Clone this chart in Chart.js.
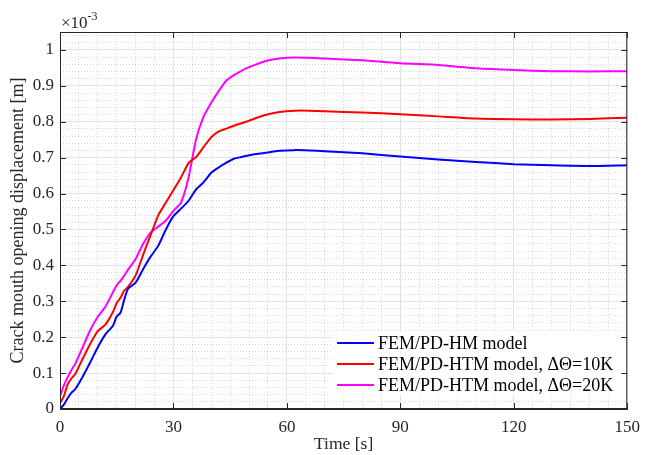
<!DOCTYPE html>
<html>
<head>
<meta charset="utf-8">
<script src="https://cdn.jsdelivr.net/npm/chart.js@4/dist/chart.umd.min.js"></script>
<style>
    html, body { margin: 0; padding: 0; background: #fff; }
</style>
</head>
<body>
<canvas id="cmod" width="648" height="455"></canvas>
<script>
// time [s] and crack mouth opening displacement [x 1e-3 m]
const timeS = [0, 1, 2, 3, 4, 6, 8, 10, 12, 14, 15, 16, 17, 18, 20, 22, 24, 26, 28, 30, 32, 34, 36, 38, 40, 42, 44, 46, 48, 50, 54, 58, 62, 66, 70, 80, 90, 100, 110, 120, 130, 140, 150];
const hmModel = [0, 0.012, 0.03, 0.045, 0.055, 0.09, 0.13, 0.172, 0.208, 0.232, 0.258, 0.268, 0.305, 0.335, 0.352, 0.39, 0.425, 0.455, 0.5, 0.537, 0.558, 0.58, 0.612, 0.632, 0.658, 0.673, 0.686, 0.697, 0.702, 0.707, 0.713, 0.719, 0.721, 0.72, 0.718, 0.712, 0.703, 0.695, 0.688, 0.682, 0.679, 0.677, 0.679];
const htm10K = [0.016, 0.035, 0.068, 0.085, 0.097, 0.14, 0.182, 0.217, 0.235, 0.27, 0.295, 0.31, 0.33, 0.34, 0.372, 0.43, 0.485, 0.54, 0.575, 0.61, 0.645, 0.685, 0.702, 0.73, 0.757, 0.773, 0.781, 0.789, 0.796, 0.803, 0.818, 0.827, 0.831, 0.831, 0.829, 0.826, 0.821, 0.815, 0.809, 0.807, 0.806, 0.808, 0.811];
const htm20K = [0.034, 0.065, 0.088, 0.108, 0.125, 0.172, 0.22, 0.257, 0.285, 0.325, 0.345, 0.357, 0.372, 0.388, 0.418, 0.46, 0.492, 0.508, 0.525, 0.552, 0.575, 0.645, 0.752, 0.815, 0.853, 0.886, 0.915, 0.93, 0.942, 0.952, 0.968, 0.976, 0.979, 0.978, 0.976, 0.971, 0.963, 0.958, 0.949, 0.944, 0.941, 0.94, 0.941];

const seriesLabels = ['FEM/PD-HM model', 'FEM/PD-HTM model, \u0394\u0398=10K', 'FEM/PD-HTM model, \u0394\u0398=20K'];
const seriesColors = ['#0000ff', '#ff0000', '#ff00ff'];
const xTicks = [0, 30, 60, 90, 120, 150];
const yTicks = [0, 0.1, 0.2, 0.3, 0.4, 0.5, 0.6, 0.7, 0.8, 0.9, 1];

const FONT = '"Liberation Serif", "Times New Roman", serif';
const AX = '#262626';

function pairs(vals) {
    return timeS.map((t, i) => ({ x: t, y: vals[i] }));
}

const decor = {
    id: 'decor',
    afterDatasetsDraw(chart) {
        const ctx = chart.ctx, a = chart.chartArea;
        // legend (lower right, white background, no frame)
        ctx.save();
        ctx.fillStyle = '#fff';
        ctx.fillRect(333, 331, a.right - 334, 64);
        ctx.font = '18px ' + FONT;
        ctx.textBaseline = 'middle';
        ctx.fillStyle = '#000';
        chart.data.datasets.forEach((ds, i) => {
            const y = 343 + i * 21;
            ctx.strokeStyle = ds.borderColor;
            ctx.lineWidth = 2;
            ctx.beginPath();
            ctx.moveTo(337, y);
            ctx.lineTo(374, y);
            ctx.stroke();
            ctx.fillText(ds.label, 378, y + 1);
        });
        ctx.restore();
    },
    afterDraw(chart) {
        const ctx = chart.ctx, a = chart.chartArea;
        const xs = chart.scales.x, ys = chart.scales.y;
        ctx.save();
        ctx.strokeStyle = AX;
        ctx.lineWidth = 1;
        ctx.strokeRect(a.left + 0.5, a.top + 0.5, a.right - a.left - 1, a.bottom - a.top - 1);
        ctx.beginPath();
        xTicks.forEach(v => {
            const px = Math.round(xs.getPixelForValue(v)) + 0.5;
            ctx.moveTo(px, a.bottom); ctx.lineTo(px, a.bottom - 6);
            ctx.moveTo(px, a.top); ctx.lineTo(px, a.top + 6);
        });
        yTicks.forEach(v => {
            const py = Math.round(ys.getPixelForValue(v)) + 0.5;
            ctx.moveTo(a.left, py); ctx.lineTo(a.left + 6, py);
            ctx.moveTo(a.right, py); ctx.lineTo(a.right - 6, py);
        });
        ctx.stroke();
        // exponent label
        ctx.fillStyle = AX;
        ctx.textBaseline = 'alphabetic';
        ctx.font = '17px ' + FONT;
        ctx.fillText('\u00d710', a.left + 1, 28);
        const w = ctx.measureText('\u00d710').width;
        ctx.font = '12px ' + FONT;
        ctx.fillText('-3', a.left + 1 + w, 20);
        ctx.restore();
    }
};

new Chart(document.getElementById('cmod'), {
    type: 'line',
    data: {
        datasets: [hmModel, htm10K, htm20K].map((vals, i) => ({
            label: seriesLabels[i],
            data: pairs(vals),
            borderColor: seriesColors[i],
            backgroundColor: seriesColors[i],
            borderWidth: 2,
            pointRadius: 0,
            tension: 0.2,
            fill: false
        }))
    },
    options: {
        responsive: false,
        devicePixelRatio: 1,
        animation: false,
        layout: { padding: { top: 32, right: 16, left: 0, bottom: 0 } },
        plugins: { legend: { display: false }, tooltip: { enabled: false } },
        scales: {
            xMinor: {
                type: 'linear', position: 'bottom', min: 0, max: 150,
                ticks: { display: false, stepSize: 5 },
                grid: { color: 'rgba(0,0,0,0.15)', drawTicks: false, z: -2 },
                border: { display: false, dash: [1, 2] },
                afterFit: s => { s.height = 0; }
            },
            yMinor: {
                type: 'linear', position: 'left', min: 0, max: 1.05,
                ticks: { display: false, stepSize: 0.02, includeBounds: false },
                afterBuildTicks: s => { s.ticks = s.ticks.filter(t => t.value < 1.045); },
                grid: { color: 'rgba(0,0,0,0.15)', drawTicks: false, z: -2 },
                border: { display: false, dash: [1, 2] },
                afterFit: s => { s.width = 0; }
            },
            x: {
                type: 'linear', position: 'bottom', min: 0, max: 150,
                ticks: { stepSize: 30, color: AX, padding: 8, font: { family: FONT, size: 17 } },
                grid: { color: '#e2e2e2', drawTicks: false, z: -1 },
                border: { color: AX, width: 1 },
                title: { display: true, text: 'Time [s]', color: AX, font: { family: FONT, size: 17.5 }, padding: { top: 0, bottom: 0 } },
                afterFit: s => { s.height = 46; }
            },
            y: {
                type: 'linear', position: 'left', min: 0, max: 1.05,
                ticks: {
                    stepSize: 0.1, includeBounds: false, color: AX, padding: 6, font: { family: FONT, size: 17 },
                    callback: v => String(+v.toFixed(1))
                },
                afterBuildTicks: s => { s.ticks = s.ticks.filter(t => t.value < 1.01); },
                grid: { color: '#e2e2e2', drawTicks: false, z: -1 },
                border: { color: AX, width: 1 },
                title: { display: true, text: 'Crack mouth opening displacement [m]', color: AX, font: { family: FONT, size: 18 }, padding: { top: 7, bottom: 0 } },
                afterFit: s => { s.width = 60; }
            }
        }
    },
    plugins: [decor]
});
</script>
</body>
</html>
